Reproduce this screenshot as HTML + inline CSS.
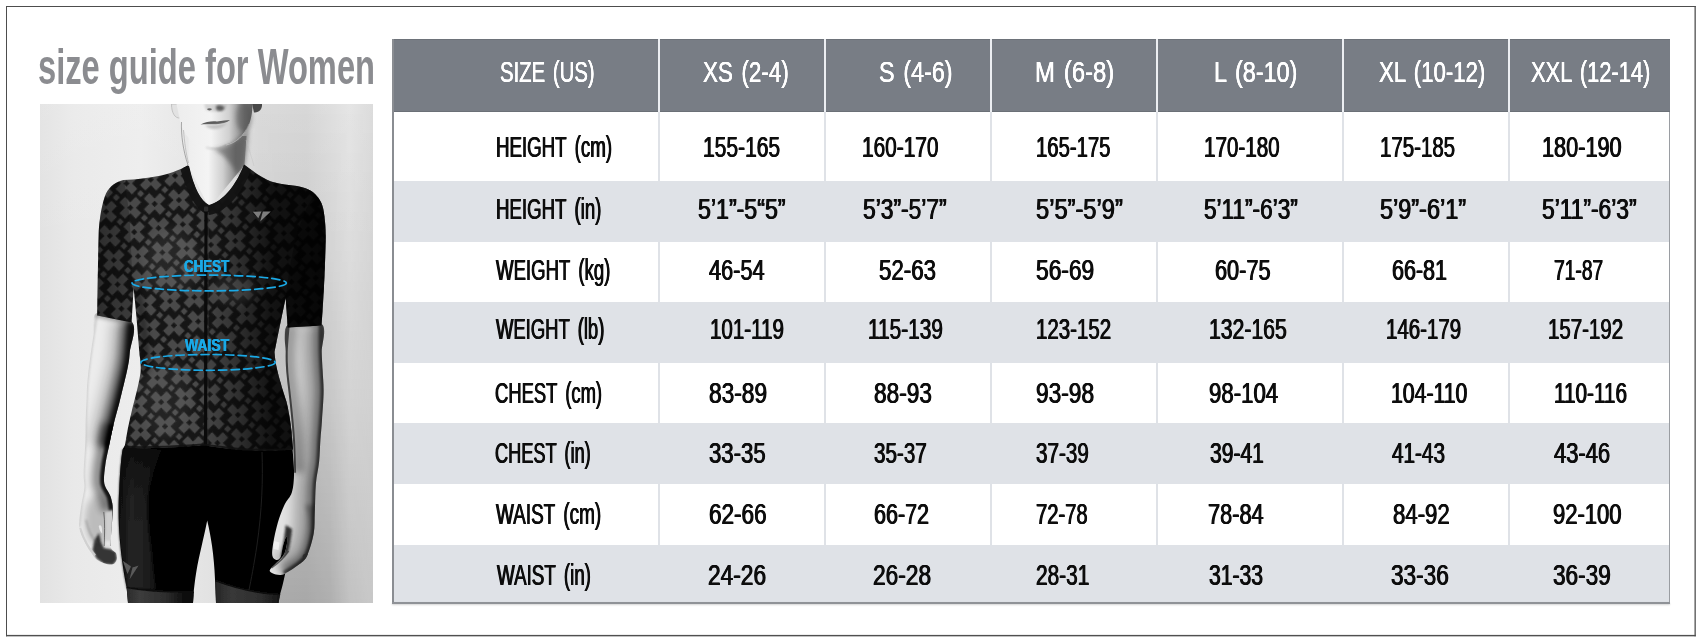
<!DOCTYPE html>
<html lang="en"><head><meta charset="utf-8"><title>size guide for Women</title>
<style>
html,body{margin:0;padding:0;background:#fff;}
body{width:1701px;height:643px;position:relative;overflow:hidden;font-family:"Liberation Sans",sans-serif;}
.abs{position:absolute;}
.t{position:absolute;white-space:nowrap;line-height:1;transform-origin:0 0;display:block;}
.photo{position:absolute;left:40px;top:104px;width:333px;height:499px;display:block;}
</style></head>
<body>
<svg class="abs" style="left:0;top:0;" width="1701" height="643" viewBox="0 0 1701 643"><rect x="6" y="6" width="1689.8" height="1" fill="#4d4d4d"/><rect x="6" y="6" width="1" height="630.3" fill="#4d4d4d"/><rect x="1694.5" y="6" width="1.3" height="630.3" fill="#505050"/><rect x="6" y="634.9" width="1689.8" height="1.45" fill="#505050"/></svg>
<svg class="photo" viewBox="40 104 333 499" width="333" height="499">
<defs>
<pattern id="px" width="24.6" height="24.6" patternUnits="userSpaceOnUse" patternTransform="translate(158.5 228.2) rotate(-9)"><rect x="-1" y="-1" width="26.6" height="26.6" fill="#191919"/><g transform="translate(0.00 0.00) rotate(54)"><rect x="-11.40" y="-3.80" width="22.80" height="7.60" fill="#4a4a4a"/><rect x="-3.80" y="-11.40" width="7.60" height="22.80" fill="#4a4a4a"/><rect x="-2.25" y="-2.25" width="4.50" height="4.50" fill="#191919"/></g><g transform="translate(24.60 0.00) rotate(54)"><rect x="-11.40" y="-3.80" width="22.80" height="7.60" fill="#4a4a4a"/><rect x="-3.80" y="-11.40" width="7.60" height="22.80" fill="#4a4a4a"/><rect x="-2.25" y="-2.25" width="4.50" height="4.50" fill="#191919"/></g><g transform="translate(0.00 24.60) rotate(54)"><rect x="-11.40" y="-3.80" width="22.80" height="7.60" fill="#4a4a4a"/><rect x="-3.80" y="-11.40" width="7.60" height="22.80" fill="#4a4a4a"/><rect x="-2.25" y="-2.25" width="4.50" height="4.50" fill="#191919"/></g><g transform="translate(24.60 24.60) rotate(54)"><rect x="-11.40" y="-3.80" width="22.80" height="7.60" fill="#4a4a4a"/><rect x="-3.80" y="-11.40" width="7.60" height="22.80" fill="#4a4a4a"/><rect x="-2.25" y="-2.25" width="4.50" height="4.50" fill="#191919"/></g><g transform="translate(12.30 12.30) rotate(54)"><rect x="-2.40" y="-2.40" width="4.80" height="4.80" fill="#4a4a4a"/></g></pattern>
<linearGradient id="bg" x1="40" x2="373" y1="0" y2="0" gradientUnits="userSpaceOnUse">
<stop offset="0" stop-color="#e2e2e2"/><stop offset=".1" stop-color="#e9e9e9"/><stop offset=".3" stop-color="#ededed"/><stop offset=".5" stop-color="#e3e3e3"/>
<stop offset=".66" stop-color="#d6d6d6"/><stop offset=".8" stop-color="#d3d3d3"/><stop offset=".93" stop-color="#e2e2e2"/><stop offset="1" stop-color="#d8d8d8"/></linearGradient>
<linearGradient id="bgv" x1="0" x2="0" y1="104" y2="603" gradientUnits="userSpaceOnUse">
<stop offset="0" stop-color="#fff" stop-opacity=".1"/><stop offset=".3" stop-color="#fff" stop-opacity="0"/><stop offset="1" stop-color="#000" stop-opacity="0"/></linearGradient>
<linearGradient id="bgr" x1="0" x2="0" y1="104" y2="603" gradientUnits="userSpaceOnUse">
<stop offset="0" stop-color="#000" stop-opacity="0"/><stop offset=".3" stop-color="#000" stop-opacity=".03"/><stop offset=".6" stop-color="#000" stop-opacity=".09"/><stop offset="1" stop-color="#000" stop-opacity=".2"/></linearGradient>
<linearGradient id="bgrm" x1="230" x2="373" y1="0" y2="0" gradientUnits="userSpaceOnUse">
<stop offset="0" stop-color="#fff" stop-opacity="0"/><stop offset=".35" stop-color="#fff" stop-opacity="1"/><stop offset=".7" stop-color="#fff" stop-opacity="1"/><stop offset="1" stop-color="#fff" stop-opacity=".35"/></linearGradient>
<mask id="mr"><rect x="230" y="104" width="143" height="499" fill="url(#bgrm)"/></mask>
<linearGradient id="neck" x1="188" x2="246" y1="0" y2="0" gradientUnits="userSpaceOnUse">
<stop offset="0" stop-color="#eeeeee"/><stop offset=".35" stop-color="#f4f4f4"/><stop offset=".6" stop-color="#cfcfcf"/><stop offset=".82" stop-color="#8b8b8b"/><stop offset="1" stop-color="#8f8f8f"/></linearGradient>
<linearGradient id="face" x1="176" x2="254" y1="0" y2="0" gradientUnits="userSpaceOnUse">
<stop offset="0" stop-color="#ededed"/><stop offset=".45" stop-color="#f3f3f3"/><stop offset=".68" stop-color="#d0d0d0"/><stop offset=".88" stop-color="#7c7c7c"/><stop offset="1" stop-color="#5a5a5a"/></linearGradient>
<linearGradient id="jshade" x1="98" x2="326" y1="0" y2="0" gradientUnits="userSpaceOnUse">
<stop offset="0" stop-color="#000" stop-opacity=".2"/><stop offset=".12" stop-color="#000" stop-opacity="0"/><stop offset=".45" stop-color="#000" stop-opacity="0"/>
<stop offset=".6" stop-color="#000" stop-opacity=".32"/><stop offset=".76" stop-color="#000" stop-opacity=".74"/><stop offset="1" stop-color="#000" stop-opacity=".86"/></linearGradient>
<linearGradient id="mesh" x1="118" x2="160" y1="0" y2="0" gradientUnits="userSpaceOnUse">
<stop offset="0" stop-color="#0e0e0e"/><stop offset=".3" stop-color="#2a2a2a"/><stop offset=".75" stop-color="#222"/><stop offset="1" stop-color="#0a0a0a"/></linearGradient>
<linearGradient id="meshv" x1="0" x2="0" y1="448" y2="600" gradientUnits="userSpaceOnUse">
<stop offset="0" stop-color="#fff" stop-opacity=".45"/><stop offset=".3" stop-color="#fff" stop-opacity=".8"/><stop offset="1" stop-color="#fff" stop-opacity="1"/></linearGradient>
<linearGradient id="meshd" x1="0" x2="0" y1="449" y2="600" gradientUnits="userSpaceOnUse">
<stop offset="0" stop-color="#050505" stop-opacity=".7"/><stop offset=".3" stop-color="#050505" stop-opacity=".15"/><stop offset=".5" stop-color="#050505" stop-opacity="0"/></linearGradient>
<linearGradient id="bandL" x1="126" x2="194" y1="0" y2="0" gradientUnits="userSpaceOnUse">
<stop offset="0" stop-color="#2a2a2a"/><stop offset=".2" stop-color="#3c3c3c"/><stop offset=".6" stop-color="#2c2c2c"/><stop offset=".85" stop-color="#0e0e0e"/><stop offset="1" stop-color="#0a0a0a"/></linearGradient>
<linearGradient id="bandR" x1="215" x2="281" y1="0" y2="0" gradientUnits="userSpaceOnUse">
<stop offset="0" stop-color="#262626"/><stop offset=".25" stop-color="#383838"/><stop offset=".7" stop-color="#2e2e2e"/><stop offset="1" stop-color="#141414"/></linearGradient>
<mask id="mm"><rect x="100" y="440" width="80" height="170" fill="url(#meshv)"/></mask>
<filter id="b1" filterUnits="userSpaceOnUse" x="20" y="84" width="373" height="539"><feGaussianBlur stdDeviation="1"/></filter>
<filter id="b2" filterUnits="userSpaceOnUse" x="20" y="84" width="373" height="539"><feGaussianBlur stdDeviation="2.2"/></filter>
<filter id="b3" filterUnits="userSpaceOnUse" x="20" y="84" width="373" height="539"><feGaussianBlur stdDeviation="3.5"/></filter>
<filter id="b4" filterUnits="userSpaceOnUse" x="20" y="84" width="373" height="539"><feGaussianBlur stdDeviation="6"/></filter>
<filter id="b8" filterUnits="userSpaceOnUse" x="20" y="84" width="373" height="539"><feGaussianBlur stdDeviation="14"/></filter>
<filter id="bp" filterUnits="userSpaceOnUse" x="20" y="84" width="373" height="539"><feGaussianBlur stdDeviation="0.55"/></filter>
<clipPath id="cj"><path id="jpath" d="M123.6 180 C135 179.5 152 178 167 174 C176 171.5 183 168 187.5 165.5 L189 166 C194 188 201 201 209 205 C222 202 236 186 244 164.5 C254 172 262 178 271 181.5 C280 184.5 289 185 297 186 C306 188 311 190 315 194 C320 199 322.5 204 323.5 210 C325.5 222 326 232 325.5 245 C325 270 323.5 300 321.5 325.5 L287.7 327.6 L285.7 298 C283 310 279 330 274.5 352 C275 360 276.5 367 277.7 372 C281 385 284 394 286.6 402 C289 412 290.5 422 291.6 432 L293 449.5 C280 451 262 451 248.8 450.6 C232 450 216 447 203 445.6 C180 447 150 449.5 124.6 447.6 C126.5 435 129 422 131.6 411.7 C135 398 139 384 140.6 372 C141 366 140.5 360 139.6 355.5 C138 335 136 310 133.6 288 L131.6 322.6 L97.2 315.6 C97.5 290 98 260 98.7 232 C99.5 218 102 203 106 193.5 C110 186 116 181.5 123.6 180 Z"/></clipPath>
<clipPath id="cal"><path id="alpath" d="M97.0 313.0 C90.6 315.2 94.6 328.0 93.5 335.0 C92.4 342.0 91.5 347.5 90.5 355.0 C89.5 362.5 88.2 372.5 87.5 380.0 C86.8 387.5 86.8 393.3 86.5 400.0 C86.2 406.7 85.8 413.3 85.6 420.0 C85.4 426.7 85.7 431.2 85.4 440.0 C85.1 448.8 83.8 464.7 83.6 472.7 C83.4 480.7 84.7 482.5 84.3 487.9 C83.9 493.3 82.1 498.8 81.2 505.3 C80.3 511.8 78.5 520.9 79.1 527.1 C79.6 533.3 82.0 537.2 84.5 542.3 C87.0 547.4 91.0 554.1 94.3 557.6 C97.6 561.1 101.0 562.1 104.1 563.2 C107.2 564.3 110.7 564.9 112.8 564.3 C114.9 563.7 116.2 561.6 116.7 559.7 C117.2 557.9 117.1 555.4 116.1 553.2 C115.1 551.0 111.5 551.1 110.8 546.7 C110.1 542.4 111.4 533.3 111.7 527.1 C112.0 520.9 113.0 514.8 112.8 509.7 C112.6 504.6 112.0 501.0 110.6 496.6 C109.2 492.2 105.2 488.6 104.3 483.5 C103.4 478.4 104.5 472.1 105.2 466.1 C105.9 460.1 107.3 454.5 108.7 447.6 C110.1 440.8 111.7 432.6 113.5 425.0 C115.3 417.4 117.2 411.3 119.6 401.8 C121.9 392.3 125.9 376.3 127.6 368.0 C129.3 359.7 129.1 359.7 129.8 352.0 C130.5 344.3 137.5 328.5 132.0 322.0 C126.5 315.5 103.4 310.8 97.0 313.0 Z"/></clipPath>
<clipPath id="car"><path id="arpath" d="M287.7 325.0 C281.7 329.7 285.9 344.2 285.7 352.0 C285.5 359.8 285.8 365.3 286.3 372.0 C286.8 378.7 287.8 385.4 288.5 392.0 C289.2 398.6 289.9 403.7 290.6 411.7 C291.4 419.7 292.4 429.8 293.0 440.0 C293.6 450.2 294.3 464.0 294.1 472.7 C293.9 481.4 293.5 486.9 291.9 492.3 C290.3 497.7 286.6 500.2 284.3 505.3 C282.0 510.4 279.6 516.5 277.8 522.7 C276.0 528.9 274.3 536.8 273.4 542.3 C272.5 547.8 271.8 552.5 272.3 555.4 C272.8 558.3 275.0 559.6 276.4 559.9 C277.8 560.2 279.5 559.3 280.6 557.0 C281.7 554.7 282.0 549.5 283.0 546.0 C284.0 542.5 285.9 536.2 286.5 536.0 C287.1 535.8 287.4 541.7 286.8 545.0 C286.2 548.3 285.6 552.2 283.0 556.0 C280.4 559.8 273.6 565.2 271.5 567.8 C269.4 570.4 269.4 570.6 270.2 571.7 C270.9 572.8 273.6 574.0 276.0 574.4 C278.4 574.8 280.4 575.6 284.3 573.9 C288.2 572.2 295.7 567.2 299.5 564.1 C303.3 561.0 304.8 560.5 307.2 555.4 C309.6 550.3 312.4 540.9 313.7 533.6 C315.0 526.3 314.4 520.1 314.8 511.8 C315.2 503.4 315.2 491.8 315.9 483.5 C316.6 475.2 318.4 469.1 319.1 461.8 C319.9 454.6 319.9 447.0 320.4 440.0 C320.9 433.0 321.5 428.0 322.0 420.0 C322.5 412.0 323.5 400.1 323.6 391.8 C323.7 383.5 322.9 376.6 322.6 370.0 C322.3 363.4 321.9 359.7 321.7 352.0 C321.5 344.3 327.4 328.5 321.7 324.0 C316.0 319.5 293.7 320.3 287.7 325.0 Z"/></clipPath>
<clipPath id="cphoto"><rect x="40" y="104" width="333" height="499"/></clipPath>
</defs>
<g clip-path="url(#cphoto)">
<rect x="40" y="104" width="333" height="499" fill="url(#bg)"/>
<rect x="40" y="104" width="333" height="499" fill="url(#bgv)"/>
<rect x="230" y="104" width="143" height="499" fill="url(#bgr)" mask="url(#mr)"/>
<g filter="url(#bp)">
<path d="M171.5 104 L180 104 L180 118 C175 118.5 171.5 113 171.5 104 Z" fill="#e2e2e2" stroke="#b9b9b9" stroke-width=".8"/>
<path d="M252 104 L262 104 C262.5 109 259 113 254 112.5 Z" fill="#4a4a4a"/>
<path d="M188.5 136 L188.5 166 L209 208 L244.5 165 L246.5 136 Z" fill="url(#neck)"/>
<path d="M176.5 104 L252.5 104 C252.5 112 251 121 247.8 127.2 C245 133 241.5 137 237.5 139.5 C233 142.5 229 143.5 224.6 144.5 C221 146.5 218.5 147.3 215.5 147.3 C212 147.3 208.5 147 205.2 146.6 C200 145.5 196 143.5 192.3 141.4 C187.5 137.5 184.5 133 182.6 128.5 C180.5 124 179.5 120 179 116 Z" fill="url(#face)"/>
</g>
<path d="M214 149 C226 148 238 142 248.5 127 C248.5 140 246.5 152 245 164 L238 176 C233 166 226 156 214 149 Z" fill="#3d3d3d" opacity=".5" filter="url(#b2)"/>
<path d="M206 147.5 C214 150 224 148.5 232 144" fill="none" stroke="#8a8a8a" stroke-width="1.2" opacity=".5" filter="url(#b1)"/>
<path d="M226 145 C236 143 244 136 249 124" fill="none" stroke="#c9c9c9" stroke-width="1" opacity=".7" filter="url(#bp)"/>
<ellipse cx="244" cy="117" rx="8" ry="15" fill="#3f3f3f" opacity=".4" filter="url(#b2)"/>
<path d="M200.5 124.5 C206 121.5 212 120.8 217 121.4 C222 120.6 226.5 120.3 230 120 C227 122.5 222 124 216 124.3 C210 124.3 205 124 200.5 124.5 Z" fill="#5d5d5d" filter="url(#bp)"/>
<path d="M205 125 C211 125.5 220 125 227 122.8 C225 127 220 129 215 129 C210.5 129 207 127.5 205 125 Z" fill="#bdbdbd" opacity=".9" filter="url(#b1)"/>
<ellipse cx="209.5" cy="109.3" rx="2.3" ry="1.1" fill="#4d4d4d" filter="url(#bp)"/>
<path d="M216 106 C219 104.5 223.5 105 224.5 108 C223 111 219 111.5 216.5 110 Z" fill="#3a3a3a" filter="url(#b1)"/>
<path d="M204 104 L227 104 L226 109 C222 112 212 112.5 206 110 Z" fill="#9a9a9a" opacity=".35" filter="url(#b1)"/>
<path d="M181.5 122 C181 135 183 150 188 165" fill="none" stroke="#8c8c8c" stroke-width=".9" opacity=".8"/>
<path d="M183.5 130 C184.5 142 186 154 188.5 163" fill="none" stroke="#a5a5a5" stroke-width=".7" opacity=".8"/>
<path d="M246 140 C249 150 252 158 254 166" fill="none" stroke="#bdbdbd" stroke-width=".6" opacity=".7"/>
<g filter="url(#bp)">
<path d="M128 440 L291.5 440 C293.3 455 294.2 470 294.4 480 C293 500 290 530 287.5 560 C285.5 575 282 588 279.7 595.5 L278.5 603 L216 603 C215.8 596 215.5 588 215 579.5 C214.5 568 213.5 556 212 545.7 C210.5 535 208.5 526 207.2 520.5 C205 532 201 548 197.4 565.6 C195.5 576 194 588 193.4 595.5 L193 603 L128 603 L126.6 587.5 C124.5 577 121.5 560 119.8 540 C118.5 525 118.3 505 119.2 490 C119.8 475 121 458 122.8 449 L128 440 Z" fill="#040404"/>
<path d="M122.6 449.6 L161.5 450 C156 462 150 476 148 492 C146.5 510 148 530 151 550 C152.5 565 154.5 580 155.5 589.5 L126.8 588 C124.5 577 121.5 560 119.8 540 C118.5 525 118.3 505 119.2 490 C119.8 475 121 460 122.6 449.6 Z" fill="url(#mesh)" opacity=".85" filter="url(#b1)"/>
<path d="M122.6 449.6 L161.5 450 C156 462 150 476 148 492 C146.5 510 148 530 151 550 C152.5 565 154.5 580 155.5 589.5 L126.8 588 C124.5 577 121.5 560 119.8 540 C118.5 525 118.3 505 119.2 490 C119.8 475 121 460 122.6 449.6 Z" fill="url(#meshd)"/>
<path d="M126.6 587.5 C140 590 165 592.5 193.8 592 L193 603 L128 603 Z" fill="url(#bandL)"/>
<path d="M215.2 580.5 C235 588 258 593.5 280.2 594.5 L278.5 603 L216 603 Z" fill="url(#bandR)"/>
<path d="M126.6 587.5 C140 590 165 592.5 193.8 592" fill="none" stroke="#111" stroke-width="1.6"/>
<path d="M215.2 580.5 C235 588 258 593.5 280.2 594.5" fill="none" stroke="#0c0c0c" stroke-width="1.6"/>
<path d="M122.8 560.8 L131 566.5 L127.5 574 Z M132.5 567.5 L138.6 565.5 L129.5 579.5 Z" fill="#5a5a5a"/>
</g>
<path d="M262 452 C263 480 262 510 257 545 C254 565 251 580 249 590" fill="none" stroke="#1e1e1e" stroke-width="1"/>
<use href="#alpath" fill="#ececec" filter="url(#bp)"/>
<g clip-path="url(#cal)">
<path d="M132.0 322.0 C131.6 327.0 130.5 344.3 129.8 352.0 C129.1 359.7 129.3 359.7 127.6 368.0 C125.9 376.3 121.9 392.3 119.6 401.8 C117.2 411.3 115.3 417.4 113.5 425.0 C111.7 432.6 109.5 443.8 108.7 447.6" fill="none" stroke="#000" stroke-width="40" opacity=".22" filter="url(#b4)"/>
<path d="M132.0 322.0 C131.6 327.0 130.5 344.3 129.8 352.0 C129.1 359.7 129.3 359.7 127.6 368.0 C125.9 376.3 121.9 392.3 119.6 401.8 C117.2 411.3 115.3 417.4 113.5 425.0 C111.7 432.6 109.5 443.8 108.7 447.6" fill="none" stroke="#000" stroke-width="22" opacity=".5" filter="url(#b3)"/>
<path d="M132.0 322.0 C131.6 327.0 130.5 344.3 129.8 352.0 C129.1 359.7 129.3 359.7 127.6 368.0 C125.9 376.3 121.9 392.3 119.6 401.8 C117.2 411.3 115.3 417.4 113.5 425.0 C111.7 432.6 109.5 443.8 108.7 447.6" fill="none" stroke="#000" stroke-width="10" opacity=".85" filter="url(#b2)"/>
<path d="M113.5 425.0 C112.7 428.8 110.1 440.8 108.7 447.6 C107.3 454.5 105.9 460.1 105.2 466.1 C104.5 472.1 103.4 478.4 104.3 483.5 C105.2 488.6 109.2 492.2 110.6 496.6 C112.0 501.0 112.4 507.5 112.8 509.7" fill="none" stroke="#000" stroke-width="24" opacity=".4" filter="url(#b3)"/>
<path d="M113.5 425.0 C112.7 428.8 110.1 440.8 108.7 447.6 C107.3 454.5 105.9 460.1 105.2 466.1 C104.5 472.1 103.4 478.4 104.3 483.5 C105.2 488.6 109.2 492.2 110.6 496.6 C112.0 501.0 112.4 507.5 112.8 509.7" fill="none" stroke="#000" stroke-width="8" opacity=".85" filter="url(#b1)"/>
<path d="M97.0 313.0 C96.4 316.7 94.6 328.0 93.5 335.0 C92.4 342.0 91.5 347.5 90.5 355.0 C89.5 362.5 88.2 372.5 87.5 380.0 C86.8 387.5 86.8 393.3 86.5 400.0 C86.2 406.7 85.8 413.3 85.6 420.0 C85.4 426.7 85.7 431.2 85.4 440.0 C85.1 448.8 83.8 464.7 83.6 472.7 C83.4 480.7 84.7 482.5 84.3 487.9 C83.9 493.3 82.1 498.8 81.2 505.3 C80.3 511.8 79.4 523.5 79.1 527.1" fill="none" stroke="#777" stroke-width="2" opacity=".3" filter="url(#b1)"/>
<path d="M95 314 L133 322" stroke="#000" stroke-width="5" opacity=".35" filter="url(#b2)"/>
<ellipse cx="99" cy="520" rx="14" ry="26" fill="#000" opacity=".2" filter="url(#b3)"/>
<path d="M99 533 L101 542 L104 548 L110.6 549 L116.2 552 L117 560 L113 565 L104 564 L96.5 558.5 L92.5 550 L94.5 540 Z" fill="#1d1d1d" opacity=".88" filter="url(#b1)"/>
<path d="M105 512 C106.3 520 106 532 105.4 545 C106.5 547.5 109.5 547.8 110.4 545.5 C111.4 534 112.2 522 112.2 512 Z" fill="#cfcfcf" filter="url(#b1)"/>
<path d="M105.6 540.5 L110.6 541 L110.2 546.5 L105.6 546 Z" fill="#ececec" opacity=".8" filter="url(#b1)"/>
<path d="M103.8 512 C105 522 104.6 534 104.2 546" fill="none" stroke="#444" stroke-width="1" opacity=".7" filter="url(#bp)"/>
<path d="M112.8 503 C113.6 515 112.6 530 111.4 546" fill="none" stroke="#1d1d1d" stroke-width="1.8" opacity=".8" filter="url(#bp)"/>
<path d="M80 528 C83 538 88 548 95 555.5" fill="none" stroke="#cfcfcf" stroke-width="2.6" opacity=".9" filter="url(#bp)"/>
<path d="M86 520 C88 530 92 538 97 543" fill="none" stroke="#666" stroke-width="1.4" opacity=".45" filter="url(#b1)"/>
</g>
<path d="M98.7 526 C100 524.5 101.6 525.5 101.9 528 L102.3 533.6 C100.8 532.5 99.3 530 98.7 526 Z" fill="#e6e6e6" filter="url(#bp)"/>
<use href="#arpath" fill="#e2e2e2" filter="url(#bp)"/>
<g clip-path="url(#car)">
<path d="M321.7 324.0 C321.7 328.7 321.5 344.3 321.7 352.0 C321.9 359.7 322.3 363.4 322.6 370.0 C322.9 376.6 323.7 383.5 323.6 391.8 C323.5 400.1 322.5 412.0 322.0 420.0 C321.5 428.0 320.9 433.0 320.4 440.0 C319.9 447.0 319.9 454.6 319.1 461.8 C318.4 469.1 316.6 475.2 315.9 483.5 C315.2 491.8 315.2 503.4 314.8 511.8 C314.4 520.1 315.0 526.3 313.7 533.6 C312.4 540.9 309.6 550.3 307.2 555.4 C304.8 560.5 303.3 561.0 299.5 564.1 C295.7 567.2 286.8 572.3 284.3 573.9" fill="none" stroke="#000" stroke-width="42" opacity=".26" filter="url(#b4)"/>
<path d="M321.7 324.0 C321.7 328.7 321.5 344.3 321.7 352.0 C321.9 359.7 322.3 363.4 322.6 370.0 C322.9 376.6 323.7 383.5 323.6 391.8 C323.5 400.1 322.5 412.0 322.0 420.0 C321.5 428.0 320.9 433.0 320.4 440.0 C319.9 447.0 319.9 454.6 319.1 461.8 C318.4 469.1 316.6 475.2 315.9 483.5 C315.2 491.8 315.2 503.4 314.8 511.8 C314.4 520.1 315.0 526.3 313.7 533.6 C312.4 540.9 309.6 550.3 307.2 555.4 C304.8 560.5 303.3 561.0 299.5 564.1 C295.7 567.2 286.8 572.3 284.3 573.9" fill="none" stroke="#000" stroke-width="16" opacity=".36" filter="url(#b3)"/>
<path d="M321.7 324.0 C321.7 328.7 321.5 344.3 321.7 352.0 C321.9 359.7 322.3 363.4 322.6 370.0 C322.9 376.6 323.7 383.5 323.6 391.8 C323.5 400.1 322.5 412.0 322.0 420.0 C321.5 428.0 320.9 433.0 320.4 440.0 C319.9 447.0 319.9 454.6 319.1 461.8 C318.4 469.1 316.6 475.2 315.9 483.5 C315.2 491.8 315.2 503.4 314.8 511.8 C314.4 520.1 315.0 526.3 313.7 533.6 C312.4 540.9 309.6 550.3 307.2 555.4 C304.8 560.5 303.3 561.0 299.5 564.1 C295.7 567.2 286.8 572.3 284.3 573.9" fill="none" stroke="#000" stroke-width="6" opacity=".55" filter="url(#b1)"/>
<path d="M287.7 325.0 C287.4 329.5 285.9 344.2 285.7 352.0 C285.5 359.8 285.8 365.3 286.3 372.0 C286.8 378.7 287.8 385.4 288.5 392.0 C289.2 398.6 289.9 403.7 290.6 411.7 C291.4 419.7 292.4 429.8 293.0 440.0 C293.6 450.2 293.9 467.2 294.1 472.7" fill="none" stroke="#000" stroke-width="20" opacity=".3" filter="url(#b3)"/>
<path d="M287.7 325.0 C287.4 329.5 285.9 344.2 285.7 352.0 C285.5 359.8 285.8 365.3 286.3 372.0 C286.8 378.7 287.8 385.4 288.5 392.0 C289.2 398.6 289.9 403.7 290.6 411.7 C291.4 419.7 292.4 429.8 293.0 440.0 C293.6 450.2 293.9 467.2 294.1 472.7" fill="none" stroke="#000" stroke-width="4" opacity=".6" filter="url(#bp)"/>
<path d="M286 323 L323 323" stroke="#000" stroke-width="6" opacity=".4" filter="url(#b2)"/>
<path d="M285.8 525 C284.5 536 283 547 280.8 557 L283.5 556.5 L288.5 551 C290 545 291.5 536 292 529 Z" fill="#1c1c1c" opacity=".9" filter="url(#b1)"/>
<path d="M288.5 551 C284 558 277 564 271.5 568" fill="none" stroke="#2a2a2a" stroke-width="1.4" opacity=".7" filter="url(#bp)"/>
<path d="M274 541 L279.5 542.5 L278.5 550 L273.5 549 Z" fill="#f4f4f4" opacity=".8" filter="url(#bp)"/>
<path d="M305 505 C310 515 311 530 307 548 C304 556 298 563 290 570 L300 566 L310 556 L316 535 L316 505 Z" fill="#000" opacity=".28" filter="url(#b2)"/>
<ellipse cx="306" cy="556.5" rx="3.2" ry="2.8" fill="#2a2a2a" opacity=".85" filter="url(#bp)"/>
</g>
<g filter="url(#bp)"><use href="#jpath" fill="url(#px)"/></g>
<g clip-path="url(#cj)">
<rect x="90" y="160" width="245" height="300" fill="url(#jshade)"/>
<ellipse cx="170" cy="262" rx="28" ry="34" fill="#fff" opacity=".07" filter="url(#b4)"/>
<ellipse cx="235" cy="290" rx="22" ry="14" fill="#fff" opacity=".09" filter="url(#b4)"/>
<ellipse cx="165" cy="400" rx="26" ry="40" fill="#fff" opacity=".06" filter="url(#b4)"/>
<path d="M133 288 C140 320 142 345 140 372 L150 372 C150 340 146 310 140 285 Z" fill="#000" opacity=".35" filter="url(#b2)"/>
<path d="M123.6 180 C127 195 130 215 130.5 235 C131.5 260 132.5 280 132.6 298 L131.6 322.6 L97 316 L98.7 232 C100 205 108 185 123.6 180 Z" fill="#000" opacity=".22"/>
<path d="M315 194 C300 215 292 250 288 280 L285.7 298 L287.7 327.6 L321.5 325.5 L325.5 245 C326 222 323 204 315 194 Z" fill="#000" opacity=".3"/>
<path d="M187.5 165.5 L189 166 C194 188 201 201 209 205 C222 202 236 186 244 164.5 L251 170 C242 193 227 212 209.5 215 C197 212 188 196 180.5 169.5 Z" fill="#131313" opacity=".95"/>
<path d="M206 209 L205.6 450" fill="none" stroke="#0a0a0a" stroke-width="3.2"/>
<path d="M208.3 212 L207.9 450" fill="none" stroke="#3a3a3a" stroke-width=".7" opacity=".8"/>
<path d="M124.6 446.6 C150 448.5 180 446 203 444.6 C216 446 232 449 248.8 449.6 C262 450 280 450 293 448.5" fill="none" stroke="#101010" stroke-width="2" opacity=".8"/>
</g>
<rect x="204" y="206.5" width="4.2" height="5" rx="1" fill="#2d2d2d"/>
<path d="M252.8 211.8 L261.5 211.5 L258.3 218.2 Z M262.8 211.6 L270.8 211.4 L260.2 221.6 Z" fill="#7d7d7d" filter="url(#bp)"/>
<ellipse cx="209.2" cy="283" rx="77.2" ry="7.9" fill="none" stroke="#1aa9e6" stroke-width="1.7" stroke-dasharray="8.2 4.2" stroke-linecap="round"/>
<ellipse cx="208" cy="362.4" rx="67.2" ry="7.9" fill="none" stroke="#1aa9e6" stroke-width="1.7" stroke-dasharray="8.2 4.2" stroke-linecap="round"/>
</g>
</svg>
<div class="abs" style="left:392px;top:39px;width:1278px;height:73px;background:#787d85;"></div>
<div class="abs" style="left:392px;top:39px;width:1278px;height:1px;background:#6d7279;"></div>
<div class="abs" style="left:392px;top:111px;width:1278px;height:1px;background:#6b7077;"></div>
<div class="abs" style="left:392px;top:181px;width:1278px;height:61px;background:#dfe2e7;"></div>
<div class="abs" style="left:392px;top:302px;width:1278px;height:60.5px;background:#dfe2e7;"></div>
<div class="abs" style="left:392px;top:423.25px;width:1278px;height:60.5px;background:#dfe2e7;"></div>
<div class="abs" style="left:392px;top:544.5px;width:1278px;height:58.0px;background:#dfe2e7;"></div>
<div class="abs" style="left:658px;top:39px;width:2px;height:73px;background:#eceef2;"></div>
<div class="abs" style="left:658px;top:112px;width:2px;height:69px;background:#dfe2e7;"></div>
<div class="abs" style="left:658px;top:242px;width:2px;height:60px;background:#dfe2e7;"></div>
<div class="abs" style="left:658px;top:362.5px;width:2px;height:60.75px;background:#dfe2e7;"></div>
<div class="abs" style="left:658px;top:483.75px;width:2px;height:60.75px;background:#dfe2e7;"></div>
<div class="abs" style="left:824px;top:39px;width:2px;height:73px;background:#eceef2;"></div>
<div class="abs" style="left:824px;top:112px;width:2px;height:69px;background:#dfe2e7;"></div>
<div class="abs" style="left:824px;top:242px;width:2px;height:60px;background:#dfe2e7;"></div>
<div class="abs" style="left:824px;top:362.5px;width:2px;height:60.75px;background:#dfe2e7;"></div>
<div class="abs" style="left:824px;top:483.75px;width:2px;height:60.75px;background:#dfe2e7;"></div>
<div class="abs" style="left:990px;top:39px;width:2px;height:73px;background:#eceef2;"></div>
<div class="abs" style="left:990px;top:112px;width:2px;height:69px;background:#dfe2e7;"></div>
<div class="abs" style="left:990px;top:242px;width:2px;height:60px;background:#dfe2e7;"></div>
<div class="abs" style="left:990px;top:362.5px;width:2px;height:60.75px;background:#dfe2e7;"></div>
<div class="abs" style="left:990px;top:483.75px;width:2px;height:60.75px;background:#dfe2e7;"></div>
<div class="abs" style="left:1156px;top:39px;width:2px;height:73px;background:#eceef2;"></div>
<div class="abs" style="left:1156px;top:112px;width:2px;height:69px;background:#dfe2e7;"></div>
<div class="abs" style="left:1156px;top:242px;width:2px;height:60px;background:#dfe2e7;"></div>
<div class="abs" style="left:1156px;top:362.5px;width:2px;height:60.75px;background:#dfe2e7;"></div>
<div class="abs" style="left:1156px;top:483.75px;width:2px;height:60.75px;background:#dfe2e7;"></div>
<div class="abs" style="left:1342px;top:39px;width:2px;height:73px;background:#eceef2;"></div>
<div class="abs" style="left:1342px;top:112px;width:2px;height:69px;background:#dfe2e7;"></div>
<div class="abs" style="left:1342px;top:242px;width:2px;height:60px;background:#dfe2e7;"></div>
<div class="abs" style="left:1342px;top:362.5px;width:2px;height:60.75px;background:#dfe2e7;"></div>
<div class="abs" style="left:1342px;top:483.75px;width:2px;height:60.75px;background:#dfe2e7;"></div>
<div class="abs" style="left:1508px;top:39px;width:2px;height:73px;background:#eceef2;"></div>
<div class="abs" style="left:1508px;top:112px;width:2px;height:69px;background:#dfe2e7;"></div>
<div class="abs" style="left:1508px;top:242px;width:2px;height:60px;background:#dfe2e7;"></div>
<div class="abs" style="left:1508px;top:362.5px;width:2px;height:60.75px;background:#dfe2e7;"></div>
<div class="abs" style="left:1508px;top:483.75px;width:2px;height:60.75px;background:#dfe2e7;"></div>
<div class="abs" style="left:392px;top:39px;width:1.5px;height:564px;background:#8a8d92;"></div>
<div class="abs" style="left:1669px;top:112px;width:1.2px;height:491px;background:#9a9da2;"></div>
<div class="abs" style="left:392px;top:601.5px;width:1278px;height:2px;background:#8f9297;box-shadow:0 1px 2px rgba(0,0,0,.18);"></div>
<span class="t" style="left:499.85px;top:57.00px;font-size:30.0px;font-weight:normal;color:#ffffff;transform:scaleX(0.6776);text-shadow:0.2px 0 0 #ffffff,-0.2px 0 0 #ffffff;word-spacing:3px;">SIZE (US)</span>
<span class="t" style="left:703.37px;top:57.00px;font-size:30.0px;font-weight:normal;color:#ffffff;transform:scaleX(0.7476);text-shadow:0.2px 0 0 #ffffff,-0.2px 0 0 #ffffff;word-spacing:3px;">XS (2-4)</span>
<span class="t" style="left:879.36px;top:57.00px;font-size:30.0px;font-weight:normal;color:#ffffff;transform:scaleX(0.7763);text-shadow:0.2px 0 0 #ffffff,-0.2px 0 0 #ffffff;word-spacing:3px;">S (4-6)</span>
<span class="t" style="left:1034.98px;top:57.00px;font-size:30.0px;font-weight:normal;color:#ffffff;transform:scaleX(0.7946);text-shadow:0.2px 0 0 #ffffff,-0.2px 0 0 #ffffff;word-spacing:3px;">M (6-8)</span>
<span class="t" style="left:1214.24px;top:57.00px;font-size:30.0px;font-weight:normal;color:#ffffff;transform:scaleX(0.7800);text-shadow:0.2px 0 0 #ffffff,-0.2px 0 0 #ffffff;word-spacing:3px;">L (8-10)</span>
<span class="t" style="left:1379.33px;top:57.00px;font-size:30.0px;font-weight:normal;color:#ffffff;transform:scaleX(0.7404);text-shadow:0.2px 0 0 #ffffff,-0.2px 0 0 #ffffff;word-spacing:3px;">XL (10-12)</span>
<span class="t" style="left:1530.72px;top:57.00px;font-size:30.0px;font-weight:normal;color:#ffffff;transform:scaleX(0.7295);text-shadow:0.2px 0 0 #ffffff,-0.2px 0 0 #ffffff;word-spacing:3px;">XXL (12-14)</span>
<span class="t" style="left:495.86px;top:133.40px;font-size:29.0px;font-weight:normal;color:#0d0d0d;transform:scaleX(0.6444);text-shadow:0.6px 0 0 #0d0d0d,-0.6px 0 0 #0d0d0d;word-spacing:5px;">HEIGHT (cm)</span>
<span class="t" style="left:702.92px;top:133.40px;font-size:29.0px;font-weight:normal;color:#0d0d0d;transform:scaleX(0.7247);text-shadow:0.6px 0 0 #0d0d0d,-0.6px 0 0 #0d0d0d;word-spacing:5px;">155-165</span>
<span class="t" style="left:862.20px;top:133.40px;font-size:29.0px;font-weight:normal;color:#0d0d0d;transform:scaleX(0.7185);text-shadow:0.6px 0 0 #0d0d0d,-0.6px 0 0 #0d0d0d;word-spacing:5px;">160-170</span>
<span class="t" style="left:1036.36px;top:133.40px;font-size:29.0px;font-weight:normal;color:#0d0d0d;transform:scaleX(0.6996);text-shadow:0.6px 0 0 #0d0d0d,-0.6px 0 0 #0d0d0d;word-spacing:5px;">165-175</span>
<span class="t" style="left:1203.74px;top:133.40px;font-size:29.0px;font-weight:normal;color:#0d0d0d;transform:scaleX(0.7106);text-shadow:0.6px 0 0 #0d0d0d,-0.6px 0 0 #0d0d0d;word-spacing:5px;">170-180</span>
<span class="t" style="left:1379.86px;top:133.40px;font-size:29.0px;font-weight:normal;color:#0d0d0d;transform:scaleX(0.7054);text-shadow:0.6px 0 0 #0d0d0d,-0.6px 0 0 #0d0d0d;word-spacing:5px;">175-185</span>
<span class="t" style="left:1541.70px;top:133.40px;font-size:29.0px;font-weight:normal;color:#0d0d0d;transform:scaleX(0.7483);text-shadow:0.6px 0 0 #0d0d0d,-0.6px 0 0 #0d0d0d;word-spacing:5px;">180-190</span>
<span class="t" style="left:495.86px;top:195.15px;font-size:29.0px;font-weight:normal;color:#0d0d0d;transform:scaleX(0.6429);text-shadow:0.6px 0 0 #0d0d0d,-0.6px 0 0 #0d0d0d;word-spacing:5px;">HEIGHT (in)</span>
<span class="t" style="left:697.88px;top:195.15px;font-size:29.0px;font-weight:normal;color:#0d0d0d;transform:scaleX(0.7987);text-shadow:0.6px 0 0 #0d0d0d,-0.6px 0 0 #0d0d0d;word-spacing:5px;">5’1”-5“5”</span>
<span class="t" style="left:862.66px;top:195.15px;font-size:29.0px;font-weight:normal;color:#0d0d0d;transform:scaleX(0.7863);text-shadow:0.6px 0 0 #0d0d0d,-0.6px 0 0 #0d0d0d;word-spacing:5px;">5’3”-5’7”</span>
<span class="t" style="left:1035.85px;top:195.15px;font-size:29.0px;font-weight:normal;color:#0d0d0d;transform:scaleX(0.8157);text-shadow:0.6px 0 0 #0d0d0d,-0.6px 0 0 #0d0d0d;word-spacing:5px;">5’5”-5’9”</span>
<span class="t" style="left:1203.91px;top:195.15px;font-size:29.0px;font-weight:normal;color:#0d0d0d;transform:scaleX(0.7793);text-shadow:0.6px 0 0 #0d0d0d,-0.6px 0 0 #0d0d0d;word-spacing:5px;">5’11”-6’3”</span>
<span class="t" style="left:1379.86px;top:195.15px;font-size:29.0px;font-weight:normal;color:#0d0d0d;transform:scaleX(0.8087);text-shadow:0.6px 0 0 #0d0d0d,-0.6px 0 0 #0d0d0d;word-spacing:5px;">5’9”-6’1”</span>
<span class="t" style="left:1541.91px;top:195.15px;font-size:29.0px;font-weight:normal;color:#0d0d0d;transform:scaleX(0.7857);text-shadow:0.6px 0 0 #0d0d0d,-0.6px 0 0 #0d0d0d;word-spacing:5px;">5’11”-6’3”</span>
<span class="t" style="left:496.43px;top:255.90px;font-size:29.0px;font-weight:normal;color:#0d0d0d;transform:scaleX(0.6406);text-shadow:0.6px 0 0 #0d0d0d,-0.6px 0 0 #0d0d0d;word-spacing:5px;">WEIGHT (kg)</span>
<span class="t" style="left:709.48px;top:255.90px;font-size:29.0px;font-weight:normal;color:#0d0d0d;transform:scaleX(0.7488);text-shadow:0.6px 0 0 #0d0d0d,-0.6px 0 0 #0d0d0d;word-spacing:5px;">46-54</span>
<span class="t" style="left:879.42px;top:255.90px;font-size:29.0px;font-weight:normal;color:#0d0d0d;transform:scaleX(0.7683);text-shadow:0.6px 0 0 #0d0d0d,-0.6px 0 0 #0d0d0d;word-spacing:5px;">52-63</span>
<span class="t" style="left:1035.91px;top:255.90px;font-size:29.0px;font-weight:normal;color:#0d0d0d;transform:scaleX(0.7847);text-shadow:0.6px 0 0 #0d0d0d,-0.6px 0 0 #0d0d0d;word-spacing:5px;">56-69</span>
<span class="t" style="left:1214.73px;top:255.90px;font-size:29.0px;font-weight:normal;color:#0d0d0d;transform:scaleX(0.7486);text-shadow:0.6px 0 0 #0d0d0d,-0.6px 0 0 #0d0d0d;word-spacing:5px;">60-75</span>
<span class="t" style="left:1391.73px;top:255.90px;font-size:29.0px;font-weight:normal;color:#0d0d0d;transform:scaleX(0.7410);text-shadow:0.6px 0 0 #0d0d0d,-0.6px 0 0 #0d0d0d;word-spacing:5px;">66-81</span>
<span class="t" style="left:1554.20px;top:255.90px;font-size:29.0px;font-weight:normal;color:#0d0d0d;transform:scaleX(0.6628);text-shadow:0.6px 0 0 #0d0d0d,-0.6px 0 0 #0d0d0d;word-spacing:5px;">71-87</span>
<span class="t" style="left:496.43px;top:314.65px;font-size:29.0px;font-weight:normal;color:#0d0d0d;transform:scaleX(0.6361);text-shadow:0.6px 0 0 #0d0d0d,-0.6px 0 0 #0d0d0d;word-spacing:5px;">WEIGHT (lb)</span>
<span class="t" style="left:709.82px;top:314.65px;font-size:29.0px;font-weight:normal;color:#0d0d0d;transform:scaleX(0.7085);text-shadow:0.6px 0 0 #0d0d0d,-0.6px 0 0 #0d0d0d;word-spacing:5px;">101-119</span>
<span class="t" style="left:867.97px;top:314.65px;font-size:29.0px;font-weight:normal;color:#0d0d0d;transform:scaleX(0.7182);text-shadow:0.6px 0 0 #0d0d0d,-0.6px 0 0 #0d0d0d;word-spacing:5px;">115-139</span>
<span class="t" style="left:1036.31px;top:314.65px;font-size:29.0px;font-weight:normal;color:#0d0d0d;transform:scaleX(0.7055);text-shadow:0.6px 0 0 #0d0d0d,-0.6px 0 0 #0d0d0d;word-spacing:5px;">123-152</span>
<span class="t" style="left:1209.11px;top:314.65px;font-size:29.0px;font-weight:normal;color:#0d0d0d;transform:scaleX(0.7304);text-shadow:0.6px 0 0 #0d0d0d,-0.6px 0 0 #0d0d0d;word-spacing:5px;">132-165</span>
<span class="t" style="left:1386.07px;top:314.65px;font-size:29.0px;font-weight:normal;color:#0d0d0d;transform:scaleX(0.7055);text-shadow:0.6px 0 0 #0d0d0d,-0.6px 0 0 #0d0d0d;word-spacing:5px;">146-179</span>
<span class="t" style="left:1547.81px;top:314.65px;font-size:29.0px;font-weight:normal;color:#0d0d0d;transform:scaleX(0.7055);text-shadow:0.6px 0 0 #0d0d0d,-0.6px 0 0 #0d0d0d;word-spacing:5px;">157-192</span>
<span class="t" style="left:495.29px;top:379.15px;font-size:29.0px;font-weight:normal;color:#0d0d0d;transform:scaleX(0.6345);text-shadow:0.6px 0 0 #0d0d0d,-0.6px 0 0 #0d0d0d;word-spacing:5px;">CHEST (cm)</span>
<span class="t" style="left:709.00px;top:379.15px;font-size:29.0px;font-weight:normal;color:#0d0d0d;transform:scaleX(0.7830);text-shadow:0.6px 0 0 #0d0d0d,-0.6px 0 0 #0d0d0d;word-spacing:5px;">83-89</span>
<span class="t" style="left:874.00px;top:379.15px;font-size:29.0px;font-weight:normal;color:#0d0d0d;transform:scaleX(0.7813);text-shadow:0.6px 0 0 #0d0d0d,-0.6px 0 0 #0d0d0d;word-spacing:5px;">88-93</span>
<span class="t" style="left:1036.00px;top:379.15px;font-size:29.0px;font-weight:normal;color:#0d0d0d;transform:scaleX(0.7831);text-shadow:0.6px 0 0 #0d0d0d,-0.6px 0 0 #0d0d0d;word-spacing:5px;">93-98</span>
<span class="t" style="left:1209.00px;top:379.15px;font-size:29.0px;font-weight:normal;color:#0d0d0d;transform:scaleX(0.7661);text-shadow:0.6px 0 0 #0d0d0d,-0.6px 0 0 #0d0d0d;word-spacing:5px;">98-104</span>
<span class="t" style="left:1391.34px;top:379.15px;font-size:29.0px;font-weight:normal;color:#0d0d0d;transform:scaleX(0.7324);text-shadow:0.6px 0 0 #0d0d0d,-0.6px 0 0 #0d0d0d;word-spacing:5px;">104-110</span>
<span class="t" style="left:1553.97px;top:379.15px;font-size:29.0px;font-weight:normal;color:#0d0d0d;transform:scaleX(0.7146);text-shadow:0.6px 0 0 #0d0d0d,-0.6px 0 0 #0d0d0d;word-spacing:5px;">110-116</span>
<span class="t" style="left:495.45px;top:439.15px;font-size:29.0px;font-weight:normal;color:#0d0d0d;transform:scaleX(0.6271);text-shadow:0.6px 0 0 #0d0d0d,-0.6px 0 0 #0d0d0d;word-spacing:5px;">CHEST (in)</span>
<span class="t" style="left:709.00px;top:439.15px;font-size:29.0px;font-weight:normal;color:#0d0d0d;transform:scaleX(0.7643);text-shadow:0.6px 0 0 #0d0d0d,-0.6px 0 0 #0d0d0d;word-spacing:5px;">33-35</span>
<span class="t" style="left:874.38px;top:439.15px;font-size:29.0px;font-weight:normal;color:#0d0d0d;transform:scaleX(0.7111);text-shadow:0.6px 0 0 #0d0d0d,-0.6px 0 0 #0d0d0d;word-spacing:5px;">35-37</span>
<span class="t" style="left:1036.36px;top:439.15px;font-size:29.0px;font-weight:normal;color:#0d0d0d;transform:scaleX(0.7117);text-shadow:0.6px 0 0 #0d0d0d,-0.6px 0 0 #0d0d0d;word-spacing:5px;">37-39</span>
<span class="t" style="left:1210.22px;top:439.15px;font-size:29.0px;font-weight:normal;color:#0d0d0d;transform:scaleX(0.7267);text-shadow:0.6px 0 0 #0d0d0d,-0.6px 0 0 #0d0d0d;word-spacing:5px;">39-41</span>
<span class="t" style="left:1392.30px;top:439.15px;font-size:29.0px;font-weight:normal;color:#0d0d0d;transform:scaleX(0.7142);text-shadow:0.6px 0 0 #0d0d0d,-0.6px 0 0 #0d0d0d;word-spacing:5px;">41-43</span>
<span class="t" style="left:1554.23px;top:439.15px;font-size:29.0px;font-weight:normal;color:#0d0d0d;transform:scaleX(0.7564);text-shadow:0.6px 0 0 #0d0d0d,-0.6px 0 0 #0d0d0d;word-spacing:5px;">43-46</span>
<span class="t" style="left:496.43px;top:500.15px;font-size:29.0px;font-weight:normal;color:#0d0d0d;transform:scaleX(0.6523);text-shadow:0.6px 0 0 #0d0d0d,-0.6px 0 0 #0d0d0d;word-spacing:5px;">WAIST (cm)</span>
<span class="t" style="left:708.96px;top:500.15px;font-size:29.0px;font-weight:normal;color:#0d0d0d;transform:scaleX(0.7769);text-shadow:0.6px 0 0 #0d0d0d,-0.6px 0 0 #0d0d0d;word-spacing:5px;">62-66</span>
<span class="t" style="left:873.98px;top:500.15px;font-size:29.0px;font-weight:normal;color:#0d0d0d;transform:scaleX(0.7419);text-shadow:0.6px 0 0 #0d0d0d,-0.6px 0 0 #0d0d0d;word-spacing:5px;">66-72</span>
<span class="t" style="left:1036.00px;top:500.15px;font-size:29.0px;font-weight:normal;color:#0d0d0d;transform:scaleX(0.6967);text-shadow:0.6px 0 0 #0d0d0d,-0.6px 0 0 #0d0d0d;word-spacing:5px;">72-78</span>
<span class="t" style="left:1208.48px;top:500.15px;font-size:29.0px;font-weight:normal;color:#0d0d0d;transform:scaleX(0.7500);text-shadow:0.6px 0 0 #0d0d0d,-0.6px 0 0 #0d0d0d;word-spacing:5px;">78-84</span>
<span class="t" style="left:1392.86px;top:500.15px;font-size:29.0px;font-weight:normal;color:#0d0d0d;transform:scaleX(0.7651);text-shadow:0.6px 0 0 #0d0d0d,-0.6px 0 0 #0d0d0d;word-spacing:5px;">84-92</span>
<span class="t" style="left:1553.25px;top:500.15px;font-size:29.0px;font-weight:normal;color:#0d0d0d;transform:scaleX(0.7594);text-shadow:0.6px 0 0 #0d0d0d,-0.6px 0 0 #0d0d0d;word-spacing:5px;">92-100</span>
<span class="t" style="left:497.03px;top:561.00px;font-size:29.0px;font-weight:normal;color:#0d0d0d;transform:scaleX(0.6472);text-shadow:0.6px 0 0 #0d0d0d,-0.6px 0 0 #0d0d0d;word-spacing:5px;">WAIST (in)</span>
<span class="t" style="left:707.88px;top:561.00px;font-size:29.0px;font-weight:normal;color:#0d0d0d;transform:scaleX(0.7823);text-shadow:0.6px 0 0 #0d0d0d,-0.6px 0 0 #0d0d0d;word-spacing:5px;">24-26</span>
<span class="t" style="left:872.88px;top:561.00px;font-size:29.0px;font-weight:normal;color:#0d0d0d;transform:scaleX(0.7825);text-shadow:0.6px 0 0 #0d0d0d,-0.6px 0 0 #0d0d0d;word-spacing:5px;">26-28</span>
<span class="t" style="left:1036.20px;top:561.00px;font-size:29.0px;font-weight:normal;color:#0d0d0d;transform:scaleX(0.7184);text-shadow:0.6px 0 0 #0d0d0d,-0.6px 0 0 #0d0d0d;word-spacing:5px;">28-31</span>
<span class="t" style="left:1209.32px;top:561.00px;font-size:29.0px;font-weight:normal;color:#0d0d0d;transform:scaleX(0.7288);text-shadow:0.6px 0 0 #0d0d0d,-0.6px 0 0 #0d0d0d;word-spacing:5px;">31-33</span>
<span class="t" style="left:1391.10px;top:561.00px;font-size:29.0px;font-weight:normal;color:#0d0d0d;transform:scaleX(0.7791);text-shadow:0.6px 0 0 #0d0d0d,-0.6px 0 0 #0d0d0d;word-spacing:5px;">33-36</span>
<span class="t" style="left:1553.00px;top:561.00px;font-size:29.0px;font-weight:normal;color:#0d0d0d;transform:scaleX(0.7784);text-shadow:0.6px 0 0 #0d0d0d,-0.6px 0 0 #0d0d0d;word-spacing:5px;">36-39</span>
<span class="t" style="left:37.75px;top:42.47px;font-size:50.7px;font-weight:bold;color:#8b8c90;transform:scaleX(0.6445);">size guide for Women</span>
<span class="t" style="left:184.06px;top:258.58px;font-size:16.8px;font-weight:bold;color:#1aa9e6;transform:scaleX(0.7944);text-shadow:0.45px 0 0 #1aa9e6,-0.45px 0 0 #1aa9e6;">CHEST</span>
<span class="t" style="left:184.72px;top:338.38px;font-size:16.8px;font-weight:bold;color:#1aa9e6;transform:scaleX(0.8307);text-shadow:0.45px 0 0 #1aa9e6,-0.45px 0 0 #1aa9e6;">WAIST</span>
</body></html>
